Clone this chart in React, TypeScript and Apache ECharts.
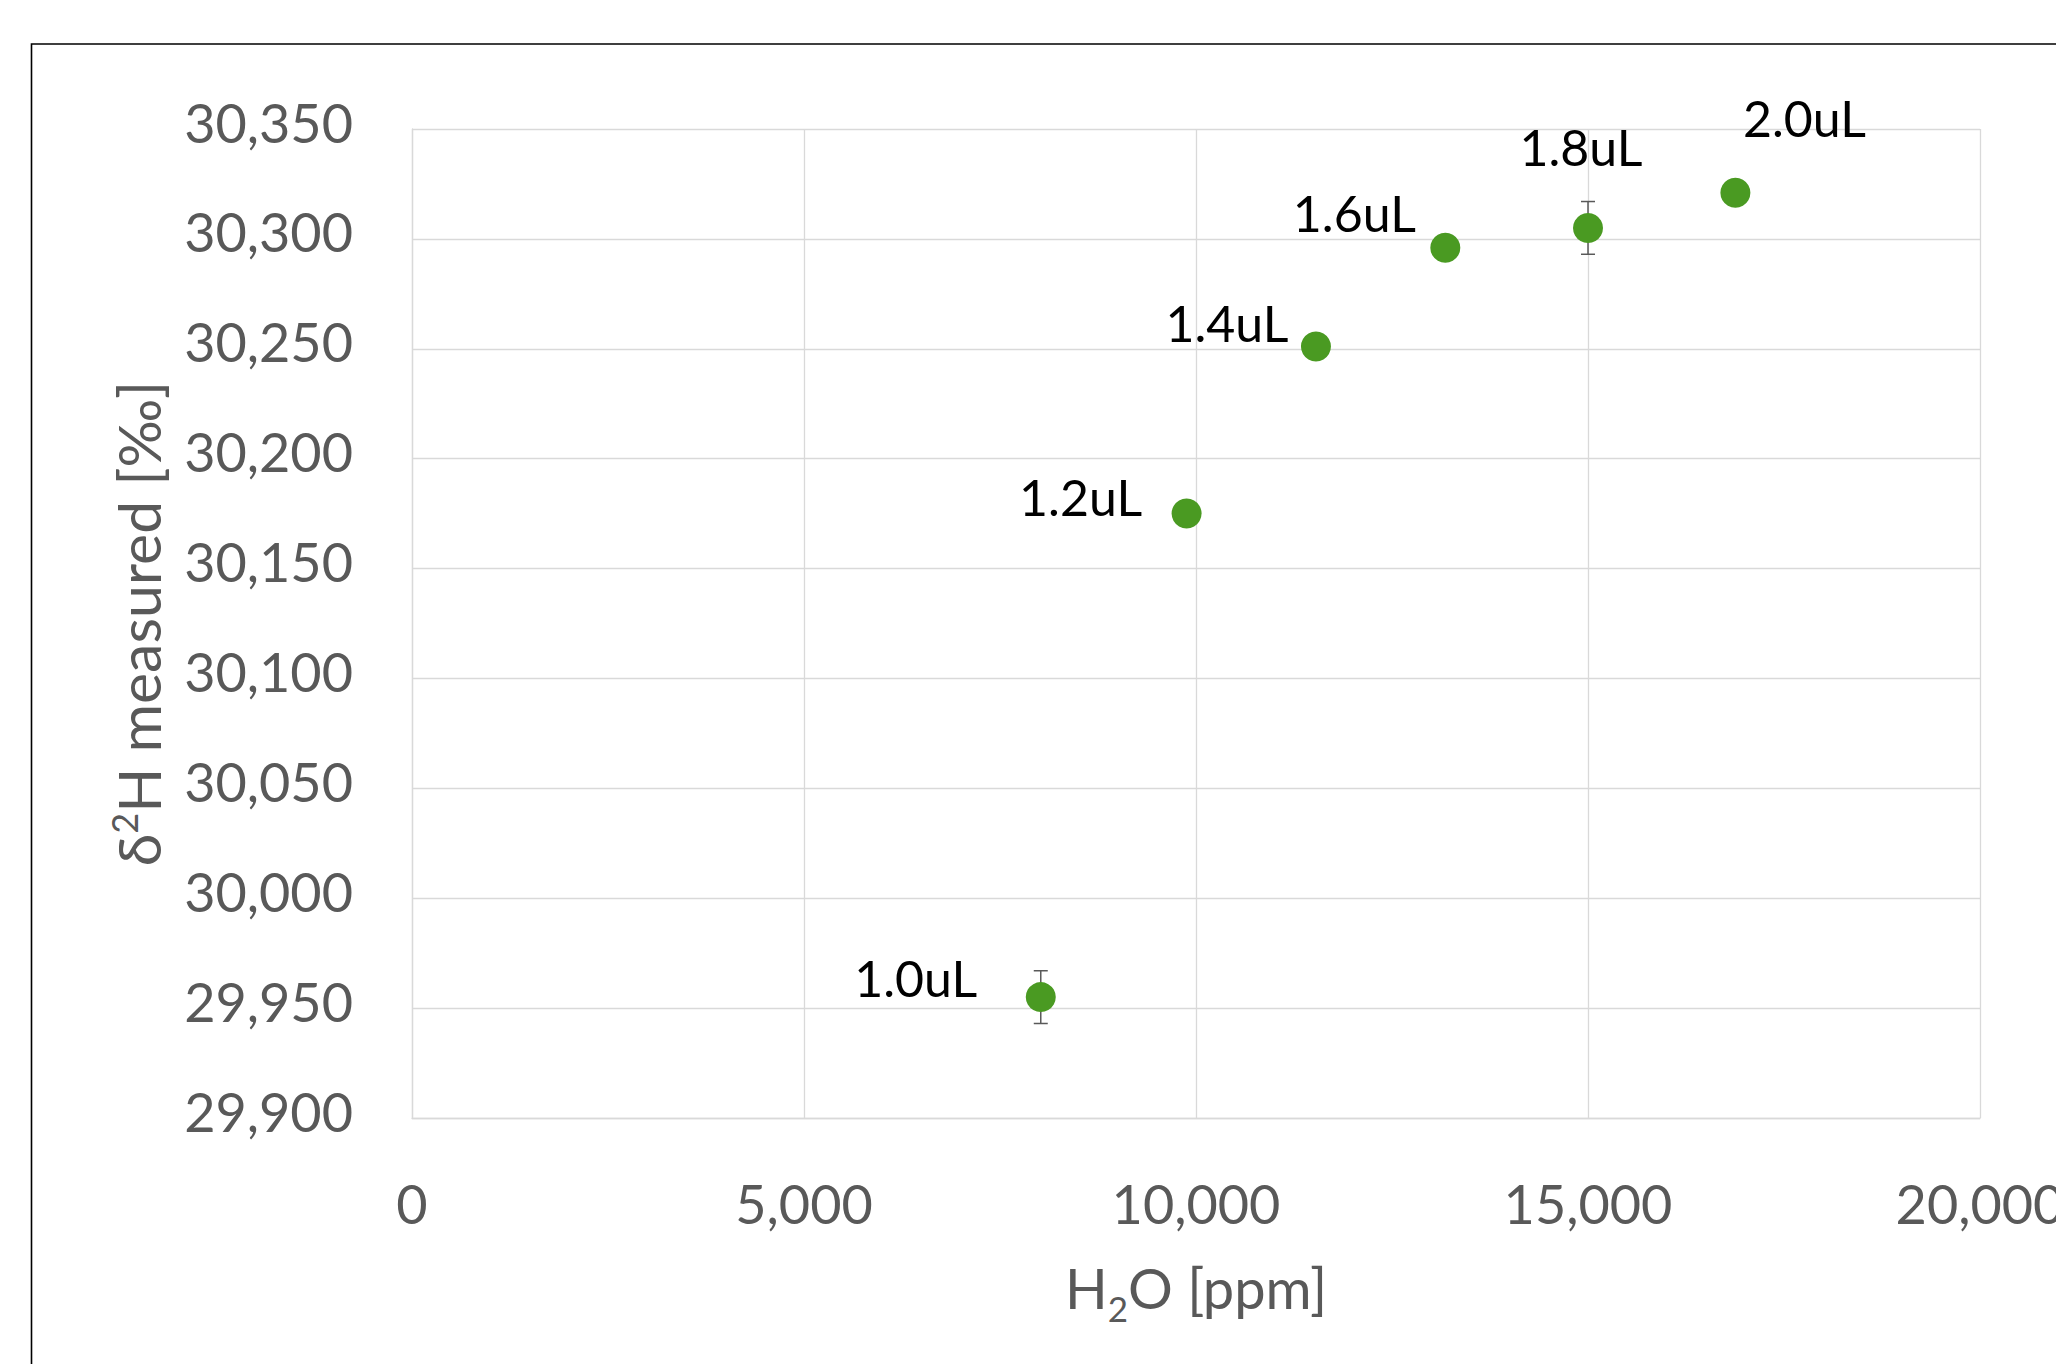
import React, { useEffect, useRef } from "react";
import * as echarts from "echarts";

// ---- data ----
const pointLabels = ["1.0uL", "1.2uL", "1.4uL", "1.6uL", "1.8uL", "2.0uL"];
const h2oPpm = [8020, 9880, 11530, 13180, 15000, 16880];
const delta2H = [29955, 30175, 30251, 30296, 30305, 30321];
const delta2HErr = [12, 0, 0, 0, 12, 0];

const xMin = 0;
const xMax = 20000;
const xStep = 5000;
const yMin = 29900;
const yMax = 30350;
const yStep = 50;

// label placement (style only)
const labelOffsets: number[][] = [
  [-125, -19],
  [-106, -17],
  [-89, -24],
  [-91, -35],
  [-7, -81],
  [69, -75],
];

const FONT = "Lato";
const GRAY = "#595959";
const GRID = "#d9d9d9";
const GREEN = "#4a9a22";

const fmt = (v: number) => v.toLocaleString("en-US");

export default function App() {
  const ref = useRef<HTMLDivElement>(null);

  useEffect(() => {
    if (!ref.current) return;
    const chart = echarts.init(ref.current, undefined, { renderer: "svg" });

    const scatterData = h2oPpm.map((x, i) => ({
      value: [x, delta2H[i]],
      name: pointLabels[i],
      label: { offset: labelOffsets[i] },
    }));

    const errData = h2oPpm
      .map((x, i) => [x, delta2H[i], delta2HErr[i]])
      .filter((d) => d[2] > 0);

    chart.setOption({
      animation: false,
      backgroundColor: "#ffffff",
      grid: {
        left: 412,
        top: 129,
        width: 1568,
        height: 989,
        containLabel: false,
        outerBoundsMode: "none",
      },
      graphic: [
        {
          type: "rect",
          shape: { x: 31.5, y: 44, width: 2200, height: 1500 },
          style: { fill: "none", stroke: "#000", lineWidth: 1.6 },
          z: 0,
          silent: true,
        },
      ],
      xAxis: {
        type: "value",
        min: xMin,
        max: xMax,
        interval: xStep,
        name: "{n|H}{sub|2}{n|O [ppm]}",
        nameLocation: "middle",
        nameGap: 132,
        nameTextStyle: {
          rich: {
            n: { fontFamily: FONT, fontSize: 56, color: GRAY },
            sub: { fontFamily: FONT, fontSize: 35, color: GRAY, padding: [40, 0, 0, 0] },
          },
        },
        axisLine: { show: true, lineStyle: { color: GRID, width: 1.3 } },
        axisTick: { show: false },
        splitLine: { show: true, lineStyle: { color: GRID, width: 1.3 } },
        axisLabel: {
          fontFamily: FONT,
          fontSize: 54,
          color: GRAY,
          margin: 58,
          formatter: (v: number) => fmt(v),
        },
      },
      yAxis: {
        type: "value",
        min: yMin,
        max: yMax,
        interval: yStep,
        name: "{n|δ}{sup|2}{n|H measured [‰]}",
        nameLocation: "middle",
        nameGap: 242,
        nameTextStyle: {
          rich: {
            n: { fontFamily: FONT, fontSize: 59, color: GRAY },
            sup: { fontFamily: FONT, fontSize: 36, color: GRAY, padding: [0, 0, 28, 0] },
          },
        },
        axisLine: { show: true, lineStyle: { color: GRID, width: 1.3 } },
        axisTick: { show: false },
        splitLine: { show: true, lineStyle: { color: GRID, width: 1.3 } },
        axisLabel: {
          fontFamily: FONT,
          fontSize: 54,
          color: GRAY,
          margin: 59,
          verticalAlign: "bottom",
          lineHeight: 14,
          formatter: (v: number) => fmt(v),
        },
      },
      series: [
        {
          type: "custom",
          coordinateSystem: "cartesian2d",
          encode: { x: 0, y: 1 },
          data: errData,
          z: 3,
          silent: true,
          renderItem: (params: any, api: any) => {
            const x = api.value(0);
            const y = api.value(1);
            const e = api.value(2);
            const top = api.coord([x, y + e]);
            const bot = api.coord([x, y - e]);
            const cap = 7;
            const style = { stroke: GRAY, lineWidth: 1.5, fill: "none" };
            return {
              type: "group",
              children: [
                { type: "line", shape: { x1: top[0], y1: top[1], x2: bot[0], y2: bot[1] }, style },
                { type: "line", shape: { x1: top[0] - cap, y1: top[1], x2: top[0] + cap, y2: top[1] }, style },
                { type: "line", shape: { x1: bot[0] - cap, y1: bot[1], x2: bot[0] + cap, y2: bot[1] }, style },
              ],
            };
          },
        },
        {
          type: "scatter",
          data: scatterData,
          symbol: "circle",
          symbolSize: 30,
          z: 4,
          itemStyle: { color: GREEN, opacity: 1 },
          label: {
            show: true,
            position: "inside",
            formatter: (p: any) => p.name,
            fontFamily: FONT,
            fontSize: 50,
            color: "#000",
          },
        },
      ],
    });

    return () => chart.dispose();
  }, []);

  return (
    <div
      ref={ref}
      style={{ position: "fixed", left: 0, top: 0, width: 2056, height: 1364, background: "#fff" }}
    />
  );
}
